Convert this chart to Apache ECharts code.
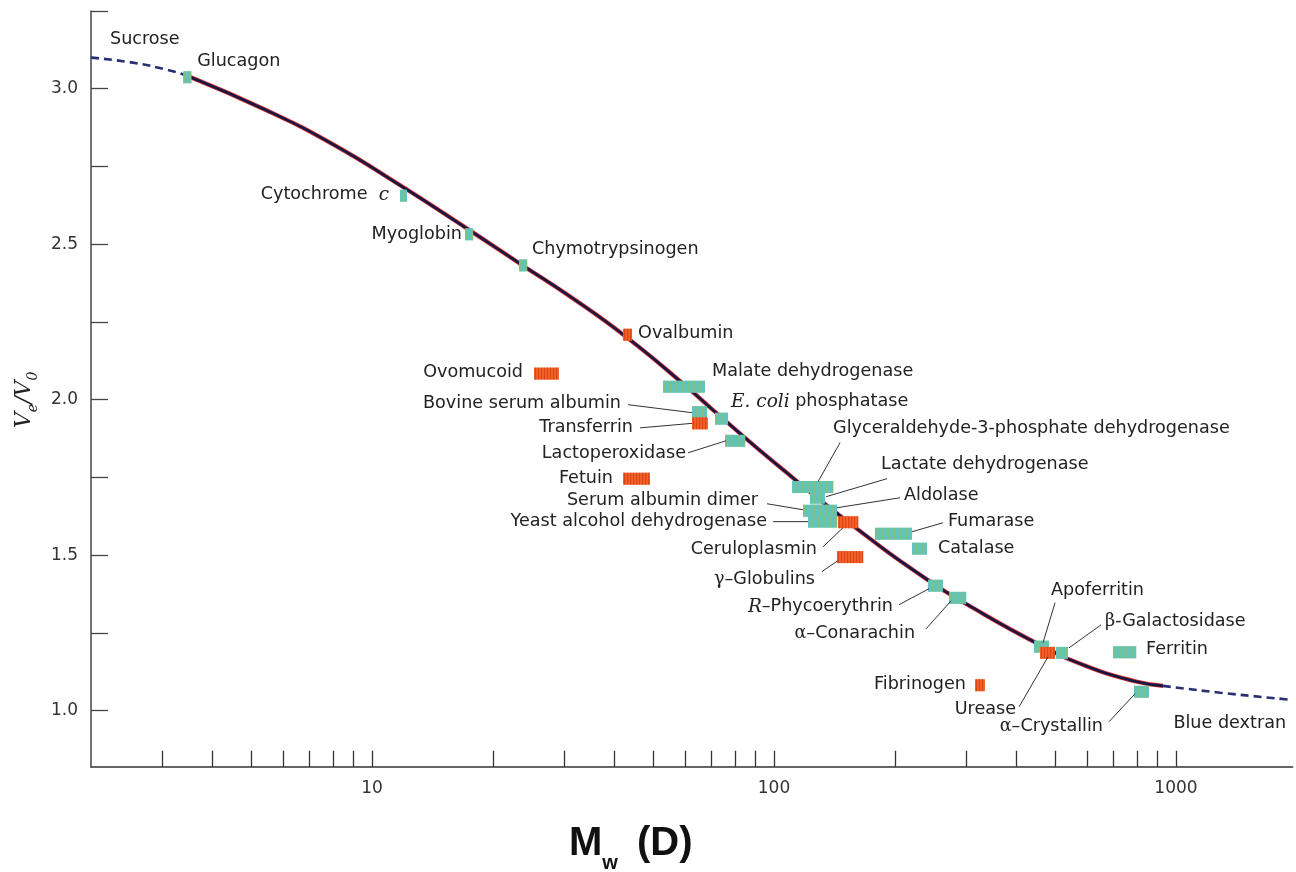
<!DOCTYPE html>
<html><head><meta charset="utf-8">
<script src="https://cdn.jsdelivr.net/npm/echarts@6/dist/echarts.min.js"></script>
<style>html,body{margin:0;padding:0;background:#fff}#c{width:1296px;height:872px}</style>
</head><body><div id="c"></div><script>
// ---------- data (molecular mass in kD, elution volume ratio Ve/V0) ----------
const proteinNames = ['Glucagon','Cytochrome c','Myoglobin','Chymotrypsinogen','Ovalbumin','Ovomucoid',
  'Malate dehydrogenase','Bovine serum albumin','Transferrin','E. coli phosphatase','Lactoperoxidase','Fetuin',
  'Glyceraldehyde-3-phosphate dehydrogenase','Lactate dehydrogenase','Serum albumin dimer','Aldolase',
  'Yeast alcohol dehydrogenase','Ceruloplasmin','γ–Globulins','Fumarase','Catalase','R–Phycoerythrin',
  'α–Conarachin','Apoferritin','Urease','β-Galactosidase','Ferritin','Fibrinogen','α–Crystallin'];
const massLow  = [3.39, 11.74, 17.03, 23.21, 42.12, 25.29, 52.96, 62.52, 62.52, 71.32, 75.53, 42.12,
  110.9, 122.9, 118.1, 122.9, 121.5, 144.3, 143.4, 178.3, 220.4, 241.6, 272.5, 443.5, 458.9, 502.9, 697.0, 316.2, 786.3];
const massHigh = [3.55, 12.22, 17.83, 24.30, 44.35, 29.19, 67.35, 68.13, 68.52, 76.85, 84.72, 49.14,
  140.3, 134.0, 137.8, 143.4, 143.4, 161.8, 166.5, 220.4, 240.3, 263.3, 300.4, 483.3, 500.0, 538.7, 795.3, 334.9, 856.6];
const veV0     = [3.037, 2.656, 2.532, 2.432, 2.209, 2.084, 2.042, 1.960, 1.924, 1.939, 1.868, 1.746,
  1.719, 1.685, 1.643, 1.643, 1.608, 1.606, 1.494, 1.569, 1.521, 1.402, 1.363, 1.206, 1.186, 1.186, 1.188, 1.082, 1.061];
// g = glycoprotein (orange), p = protein (teal)
const proteinGroup = ['p','p','p','p','g','g','p','p','g','p','p','g','p','p','p','p','p','g','g','p','p','p','p','p','g','p','p','g','p'];

const curveMass = [3.47, 5.48, 8.0, 11.7, 17.2, 23.7, 31.1, 43.1, 60.1, 70.5, 103.5, 160.9, 240.3, 303.8, 453.7, 597.3, 795.3, 928.4];
const curveVe   = [3.042, 2.930, 2.821, 2.691, 2.551, 2.432, 2.332, 2.200, 2.046, 1.967, 1.783, 1.585, 1.422, 1.340, 1.215, 1.144, 1.094, 1.080];
const lowExtrapMass = [2.0, 2.54, 3.09, 3.47];
const lowExtrapVe   = [3.100, 3.084, 3.061, 3.042];
const highExtrapMass = [928.4, 1287, 1944];
const highExtrapVe   = [1.080, 1.058, 1.035];
const endLabels = ['Sucrose', 'Blue dextran'];

const xTickValues = [3,4,5,6,7,8,9,10,20,30,40,50,60,70,80,90,100,200,300,400,500,600,700,800,900,1000];
const xLabelValues = [10, 100, 1000];
const yTickValues = [1,1.25,1.5,1.75,2,2.25,2.5,2.75,3,3.25];
const yLabelValues = [1,1.5,2,2.5,3];

// ---------- label layout (pixel offsets from marker centre) ----------
const labelLayout = {
  'Glucagon': {a:'left', dx:10, dy:-16},
  'Cytochrome c': {a:'right', dx:-14.5, dy:-1},
  'Myoglobin': {a:'right', dx:-7, dy:0.5},
  'Chymotrypsinogen': {a:'left', dx:9, dy:-15.5},
  'Ovalbumin': {a:'left', dx:10.5, dy:-1},
  'Ovomucoid': {a:'right', dx:-23.5, dy:-1},
  'Malate dehydrogenase': {a:'left', dx:28, dy:-15},
  'Bovine serum albumin': {a:'right', dx:-78.5, dy:-8.5, lead:[-71.5,-7.5,-7.5,0.5]},
  'Transferrin': {a:'right', dx:-67, dy:4.5, lead:[-60,4.5,-8,0]},
  'E. coli phosphatase': {a:'left', dx:9.5, dy:-17},
  'Lactoperoxidase': {a:'right', dx:-49, dy:13, lead:[-47,12,-9,0]},
  'Fetuin': {a:'right', dx:-23.5, dy:0},
  'Glyceraldehyde-3-phosphate dehydrogenase': {a:'left', dx:20.5, dy:-58.5, lead:[27.5,-44.5,5.5,-5.5]},
  'Lactate dehydrogenase': {a:'left', dx:63.5, dy:-33, lead:[69.5,-19,8.5,-1]},
  'Serum albumin dimer': {a:'right', dx:-58.5, dy:-10, lead:[-49.5,-7,-13.5,-1]},
  'Aldolase': {a:'left', dx:80.5, dy:-15, lead:[76.5,-13,13.5,-3]},
  'Yeast alcohol dehydrogenase': {a:'right', dx:-55.5, dy:0, lead:[-49.5,0,-14.5,0]},
  'Ceruloplasmin': {a:'right', dx:-31, dy:27.5, lead:[-25,24.5,-5,5.5]},
  'γ–Globulins': {a:'right', dx:-35, dy:22.5, lead:[-28,14.5,-12,3.5]},
  'Fumarase': {a:'left', dx:54.5, dy:-12, lead:[49.5,-11,18.5,-2]},
  'Catalase': {a:'left', dx:18.5, dy:0},
  'R–Phycoerythrin': {a:'right', dx:-42.5, dy:21, lead:[-36.5,19,-6.5,3]},
  'α–Conarachin': {a:'right', dx:-42.5, dy:36, lead:[-31.5,31,-6.5,3]},
  'Apoferritin': {a:'left', dx:9.5, dy:-56, lead:[13.5,-44,1.5,-4]},
  'Urease': {a:'right', dx:-31.5, dy:57, lead:[-28.5,54,0.5,4]},
  'β-Galactosidase': {a:'left', dx:43, dy:-31, lead:[39,-28,7,-5]},
  'Ferritin': {a:'left', dx:21.5, dy:-2.5},
  'Fibrinogen': {a:'right', dx:-14, dy:-0.5},
  'α–Crystallin': {a:'right', dx:-38.5, dy:35, lead:[-32.5,30,-6.5,2]}
};
const endLayout = [{a:'left', dx:19, dy:-18}, {a:'right', dx:-6, dy:24}];

const TXT = '#222';
const FS = 17.6;
const rich = {
  n: {fontFamily:'DejaVu Sans', fontSize:FS, fill:TXT},
  i: {fontFamily:'DejaVu Serif', fontStyle:'italic', fontSize:18.5, fill:TXT},
  g: {fontFamily:'DejaVu Serif', fontSize:FS, fill:TXT}
};
function richText(name) {
  const special = {
    'Cytochrome c': '{n|Cytochrome  }{i|c}',
    'E. coli phosphatase': '{i|E. coli}{n| phosphatase}',
    'R–Phycoerythrin': '{i|R}{n|–Phycoerythrin}',
    'α–Conarachin': '{g|α}{n|–Conarachin}',
    'α–Crystallin': '{g|α}{n|–Crystallin}',
    'β-Galactosidase': '{g|β}{n|-Galactosidase}',
    'γ–Globulins': '{g|γ}{n|–Globulins}'
  };
  return special[name] || ('{n|' + name + '}');
}
const COLORS = {
  p: {base:'#58c5c6', stripe:'#7dc08a'},
  g: {base:'#f46a2a', stripe:'#e0421a'}
};

const proteinData = proteinNames.map((n, i) => [massLow[i], massHigh[i], veV0[i]]);
const pair = (xs, ys) => xs.map((x, i) => [x, ys[i]]);

function renderProtein(params, api) {
  const i = params.dataIndex;
  const p0 = api.coord([api.value(0), api.value(2)]);
  const p1 = api.coord([api.value(1), api.value(2)]);
  const h = 12;
  const x0 = p0[0], x1 = p1[0], yc = p0[1];
  const cx = (x0 + x1) / 2;
  const c = COLORS[proteinGroup[i]];
  const children = [{type:'rect', shape:{x:x0, y:yc - h/2, width:x1 - x0, height:h}, style:{fill:c.base}}];
  for (let x = x0 + 0.8; x < x1 - 0.8; x += 3) {
    children.push({type:'rect', shape:{x:x, y:yc - h/2, width:1.5, height:h}, style:{fill:c.stripe}});
  }
  const L = labelLayout[proteinNames[i]];
  if (L) {
    if (L.lead) {
      children.push({type:'line', shape:{x1:cx + L.lead[0], y1:yc + L.lead[1], x2:cx + L.lead[2], y2:yc + L.lead[3]},
        style:{stroke:'#333', lineWidth:1}});
    }
    children.push({type:'text', x:cx + L.dx, y:yc + L.dy,
      style:{text:richText(proteinNames[i]), rich:rich, align:L.a, verticalAlign:'middle', fill:TXT, fontSize:FS, fontFamily:'DejaVu Sans'}});
  }
  return {type:'group', children:children};
}
function renderEnd(params, api) {
  const p = api.coord([api.value(0), api.value(1)]);
  const L = endLayout[params.dataIndex];
  return {type:'text', x:p[0] + L.dx, y:p[1] + L.dy,
    style:{text:endLabels[params.dataIndex], align:L.a, verticalAlign:'middle', fill:TXT, fontSize:FS, fontFamily:'DejaVu Sans'}};
}

const chart = echarts.init(document.getElementById('c'), null, {renderer:'canvas'});
chart.setOption({
  animation:false,
  backgroundColor:'#fff',
  grid:{left:91, right:3.4, top:11, bottom:105.3, outerBoundsMode:'none', containLabel:false},
  xAxis:{
    type:'log', logBase:10, min:2, max:1950,
    name:'{m|M}{w|w}{m| (D)}', nameLocation:'middle', nameGap:57,
    nameTextStyle:{padding:[0,122,0,0], rich:{
      m:{fontFamily:'Liberation Sans', fontWeight:'bold', fontSize:40, color:'#111', verticalAlign:'top', lineHeight:44},
      w:{fontFamily:'Liberation Sans', fontWeight:'bold', fontSize:20, color:'#111', verticalAlign:'top', lineHeight:20, padding:[30,8,0,0]}
    }},
    axisLine:{show:true, onZero:false, lineStyle:{color:'#333', width:1.5}},
    axisTick:{show:true, inside:true, length:16, customValues:xTickValues, lineStyle:{color:'#333', width:1.3}},
    minorTick:{show:false},
    axisLabel:{customValues:xLabelValues, margin:13, color:'#333', fontSize:17, fontFamily:'DejaVu Sans', formatter:v => String(v)},
    splitLine:{show:false}
  },
  yAxis:{
    type:'value', min:0.82, max:3.25,
    name:'{v|V}{s|e}{v|/V}{s|0}', nameLocation:'middle', nameGap:46, nameRotate:90,
    nameTextStyle:{padding:[0,22,0,0], rich:{
      v:{fontFamily:'DejaVu Serif', fontStyle:'italic', fontSize:22, color:'#222', verticalAlign:'top', lineHeight:26},
      s:{fontFamily:'DejaVu Serif', fontStyle:'italic', fontSize:14, color:'#222', verticalAlign:'top', lineHeight:14, padding:[13,0,0,0]}
    }},
    axisLine:{show:true, onZero:false, lineStyle:{color:'#444', width:1.5}},
    axisTick:{show:true, inside:true, length:17, customValues:yTickValues, lineStyle:{color:'#444', width:1.3}},
    axisLabel:{customValues:yLabelValues, margin:13, color:'#333', fontSize:17, fontFamily:'DejaVu Sans', formatter:v => v.toFixed(1)},
    splitLine:{show:false}
  },
  series:[
    {type:'line', data:pair(curveMass, curveVe), smooth:0.5, symbol:'none', lineStyle:{color:'#d62a2a', width:4.2}, z:2, silent:true},
    {type:'line', data:pair(curveMass, curveVe), smooth:0.5, symbol:'none', lineStyle:{color:'#141845', width:2.6}, z:3, silent:true},
    {type:'line', data:pair(lowExtrapMass, lowExtrapVe), smooth:0.5, symbol:'none', lineStyle:{color:'#2a2f72', width:2.6, type:[8,5]}, z:3, silent:true},
    {type:'line', data:pair(highExtrapMass, highExtrapVe), smooth:0.5, symbol:'none', lineStyle:{color:'#2a2f72', width:2.6, type:[8,5]}, z:3, silent:true},
    {type:'custom', renderItem:renderProtein, data:proteinData, z:5, silent:true},
    {type:'custom', renderItem:renderEnd, data:[[lowExtrapMass[0], lowExtrapVe[0]], [highExtrapMass[highExtrapMass.length-1], highExtrapVe[highExtrapVe.length-1]]], z:5, silent:true}
  ]
});
</script></body></html>
